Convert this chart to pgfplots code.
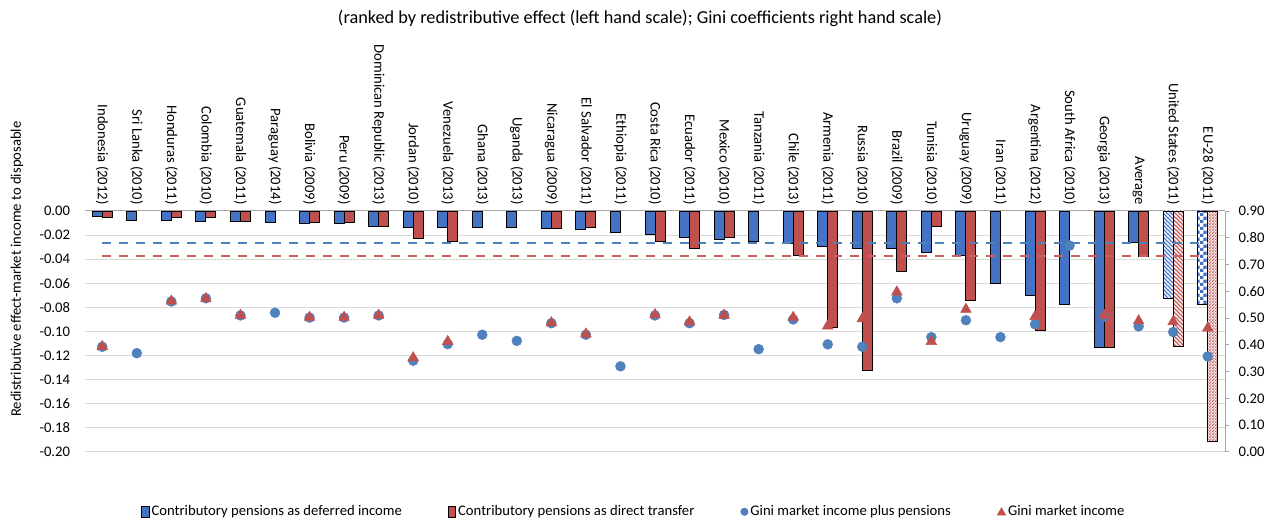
\documentclass[border=0pt]{standalone}
\usepackage{fontspec}
\setmainfont{Carlito}
\usepackage{pgfplots}
\usepackage{pgfplotstable}
\pgfplotsset{compat=1.18}
\usetikzlibrary{patterns}

\definecolor{barblue}{HTML}{4472C4}
\definecolor{barred}{HTML}{C0504D}
\definecolor{dotblue}{HTML}{4F81BD}
\definecolor{trired}{HTML}{C0504D}
\definecolor{gridgray}{HTML}{D9D9D9}
\definecolor{axisgray}{HTML}{A6A6A6}
\definecolor{dashblue}{HTML}{4F81BD}
\definecolor{dashred}{HTML}{CF5F5C}

% fill patterns for the two reference bars
\pgfdeclarepatternformonly{wide downward diagonal}{\pgfqpoint{-1pt}{-1pt}}{\pgfqpoint{4pt}{4pt}}{\pgfqpoint{3pt}{3pt}}{%
  \pgfsetlinewidth{0.85pt}%
  \pgfpathmoveto{\pgfqpoint{-0.6pt}{3.6pt}}\pgfpathlineto{\pgfqpoint{3.6pt}{-0.6pt}}%
  \pgfusepath{stroke}}
\pgfdeclarepatternformonly{large checker}{\pgfqpoint{0pt}{0pt}}{\pgfqpoint{5pt}{5pt}}{\pgfqpoint{5pt}{5pt}}{%
  \pgfpathrectangle{\pgfqpoint{0pt}{0pt}}{\pgfqpoint{2.5pt}{2.5pt}}%
  \pgfpathrectangle{\pgfqpoint{2.5pt}{2.5pt}}{\pgfqpoint{2.5pt}{2.5pt}}%
  \pgfusepath{fill}}
\pgfdeclarepatternformonly{small checker}{\pgfqpoint{0pt}{0pt}}{\pgfqpoint{2.4pt}{2.4pt}}{\pgfqpoint{2.4pt}{2.4pt}}{%
  \pgfpathrectangle{\pgfqpoint{0pt}{0pt}}{\pgfqpoint{1.2pt}{1.2pt}}%
  \pgfpathrectangle{\pgfqpoint{1.2pt}{1.2pt}}{\pgfqpoint{1.2pt}{1.2pt}}%
  \pgfusepath{fill}}

% x: category index; def/dir: redistributive effect (left scale);
% gmp/gm: Gini market income plus pensions / Gini market income (right scale)
\pgfplotstableread{
x   def      dir      gmp    gm
0   -0.0047  -0.0055  0.393  0.388
1   -0.0075  nan      0.369  nan
2   -0.0075  -0.0055  0.562  0.558
3   -0.0086  -0.0055  0.574  0.567
4   -0.0086  -0.0086  0.510  0.505
5   -0.0094  nan      0.520  nan
6   -0.0105  -0.0097  0.502  0.497
7   -0.0105  -0.0097  0.502  0.497
8   -0.0127  -0.0127  0.510  0.505
9   -0.0135  -0.0229  0.341  0.346
10  -0.0135  -0.0249  0.403  0.407
11  -0.0135  nan      0.438  nan
12  -0.0135  nan      0.415  nan
13  -0.0146  -0.0146  0.481  0.477
14  -0.0157  -0.0135  0.438  0.435
15  -0.0177  nan      0.320  nan
16  -0.0196  -0.0249  0.510  0.507
17  -0.0218  -0.0309  0.481  0.480
18  -0.0238  -0.0218  0.512  0.505
19  -0.0249  nan      0.384  nan
20  -0.0268  -0.0370  0.495  0.497
21  -0.0298  -0.0967  0.402  0.465
22  -0.0315  -0.1323  0.393  0.492
23  -0.0315  -0.0503  0.574  0.592
24  -0.0343  -0.0130  0.429  0.407
25  -0.0373  -0.0746  0.492  0.527
26  -0.0605  nan      0.429  nan
27  -0.0705  -0.0989  0.477  0.500
28  -0.0776  nan      0.771  nan
29  -0.1130  -0.1130  0.506  0.505
30  -0.0264  -0.0374  0.469  0.484
31  -0.0724  -0.1122  0.448  0.481
32  -0.0774  -0.1910  0.357  0.457
}\ginitable

\begin{document}
\fontsize{11pt}{13pt}\selectfont
\begin{tikzpicture}[font=\fontsize{11pt}{13pt}\selectfont]
\begin{axis}[
  scale only axis, width=855pt, height=180.75pt,
  xmin=-0.5, xmax=32.5, ymin=-0.2, ymax=0,
  axis x line*=top, axis y line*=left,
  x axis line style={axisgray, line width=0.75pt},
  y axis line style={draw=none},
  major tick length=0pt,
  xtick={0,...,32},
  xticklabels={Indonesia (2012), Sri Lanka (2010), Honduras (2011), Colombia (2010),
    Guatemala (2011), Paraguay (2014), Bolivia (2009), Peru (2009),
    Dominican Republic (2013), Jordan (2010), Venezuela (2013), Ghana (2013),
    Uganda (2013), Nicaragua (2009), El Salvador (2011), Ethiopia (2011),
    Costa Rica (2010), Ecuador (2011), Mexico (2010), Tanzania (2011),
    Chile (2013), Armenia (2011), Russia (2010), Brazil (2009), Tunisia (2010),
    Uruguay (2009), Iran (2011), Argentina (2012), South Africa (2010),
    Georgia (2013), Average, United States (2011), EU-28 (2011)},
  xticklabel style={yshift=4.5pt, rotate=-90, anchor=east, inner sep=0pt},
  ytick={-0.2,-0.18,-0.16,-0.14,-0.12,-0.1,-0.08,-0.06,-0.04,-0.02,0},
  yticklabel style={/pgf/number format/.cd, fixed, fixed zerofill, precision=2,
    assume math mode=true, /tikz/.cd, anchor=east, inner sep=0pt, xshift=-11pt},
  ymajorgrids, grid style={gridgray, line width=0.75pt},
  ylabel={Redistributive effect-market income to disposable},
  ylabel style={at={(axis description cs:-0.0597,0.759)}, anchor=center},
  title={(ranked by redistributive effect (left hand scale); Gini coefficients right hand scale)},
  every axis title/.style={at={(axis description cs:0.4868,1.8008)}, anchor=center,
    inner sep=0pt, font=\fontsize{13.7pt}{15.5pt}\selectfont},
]
% contributory pensions as deferred income / as direct transfer
\addplot[ybar, bar width=7.5pt, bar shift=-3.75pt, fill=barblue, draw=black, line width=0.7pt,
  restrict x to domain=0:30] table[x=x, y=def] {\ginitable};
\addplot[ybar, bar width=7.5pt, bar shift=3.75pt, fill=barred, draw=black, line width=0.7pt,
  restrict x to domain=0:30] table[x=x, y=dir] {\ginitable};
% United States
\addplot[ybar, bar width=7.5pt, bar shift=-3.75pt, fill=barblue, draw=black, line width=0.7pt,
  postaction={pattern=wide downward diagonal, pattern color=white},
  restrict x to domain=31:31] table[x=x, y=def] {\ginitable};
\addplot[ybar, bar width=7.5pt, bar shift=3.75pt, fill=barred, draw=black, line width=0.7pt,
  postaction={pattern=wide downward diagonal, pattern color=white},
  restrict x to domain=31:31] table[x=x, y=dir] {\ginitable};
% EU-28
\addplot[ybar, bar width=7.5pt, bar shift=-3.75pt, fill=white, draw=black, line width=0.7pt,
  postaction={pattern=large checker, pattern color=barblue},
  restrict x to domain=32:32] table[x=x, y=def] {\ginitable};
\addplot[ybar, bar width=7.5pt, bar shift=3.75pt, fill=white, draw=black, line width=0.7pt,
  postaction={pattern=small checker, pattern color=barred},
  restrict x to domain=32:32] table[x=x, y=dir] {\ginitable};
% averages
\addplot[dashblue, line width=1.5pt, dash pattern=on 6.75pt off 6pt] coordinates {(0,-0.0264) (32,-0.0264)};
\addplot[dashred, line width=1.5pt, dash pattern=on 6.75pt off 6pt] coordinates {(0,-0.0374) (32,-0.0374)};
\end{axis}

\begin{axis}[
  scale only axis, width=855pt, height=180.75pt,
  xmin=-0.5, xmax=32.5, ymin=0, ymax=0.9,
  axis x line=none, axis y line*=right,
  y axis line style={axisgray, line width=0.75pt},
  ytick={0,0.1,0.2,0.3,0.4,0.5,0.6,0.7,0.8,0.9},
  tick align=outside, major tick length=3pt,
  ytick style={axisgray, line width=0.75pt},
  yticklabel style={/pgf/number format/.cd, fixed, fixed zerofill, precision=2,
    assume math mode=true, /tikz/.cd, anchor=west, inner sep=0pt, xshift=7pt},
  legend columns=4,
  legend cell align=left,
  legend style={draw=none, fill=none, at={(axis description cs:0.4815,-0.248)}, anchor=center,
    inner sep=0pt, nodes={inner sep=1.5pt},
    /tikz/every even column/.append style={column sep=33pt}},
]
\addlegendimage{legend image code/.code={\draw[fill=barblue, draw=black, line width=0.6pt] (0pt,-4pt) rectangle (5.5pt,4pt);}}
\addlegendentry{Contributory pensions as deferred income}
\addlegendimage{legend image code/.code={\draw[fill=barred, draw=black, line width=0.6pt] (0pt,-4pt) rectangle (5.5pt,4pt);}}
\addlegendentry{Contributory pensions as direct transfer}
\addlegendimage{legend image code/.code={\fill[dotblue] (3pt,0pt) circle (2.8pt);}}
\addlegendentry{Gini market income plus pensions}
\addlegendimage{legend image code/.code={\fill[trired] (-0.2pt,-2.6pt) -- (6.2pt,-2.6pt) -- (3pt,3pt) -- cycle;}}
\addlegendentry{Gini market income}
\addplot[only marks, mark=*, mark size=3.7pt, color=dotblue, forget plot] table[x=x, y=gmp] {\ginitable};
\addplot[only marks, mark=triangle*, mark size=4.6pt, color=trired, forget plot,
  every mark/.append style={yshift=1.15pt}] table[x=x, y=gm] {\ginitable};
\end{axis}
\pgfresetboundingbox
\path[use as bounding box] (-63.75pt,-51pt) rectangle (885.75pt,339pt);
\end{tikzpicture}
\end{document}
